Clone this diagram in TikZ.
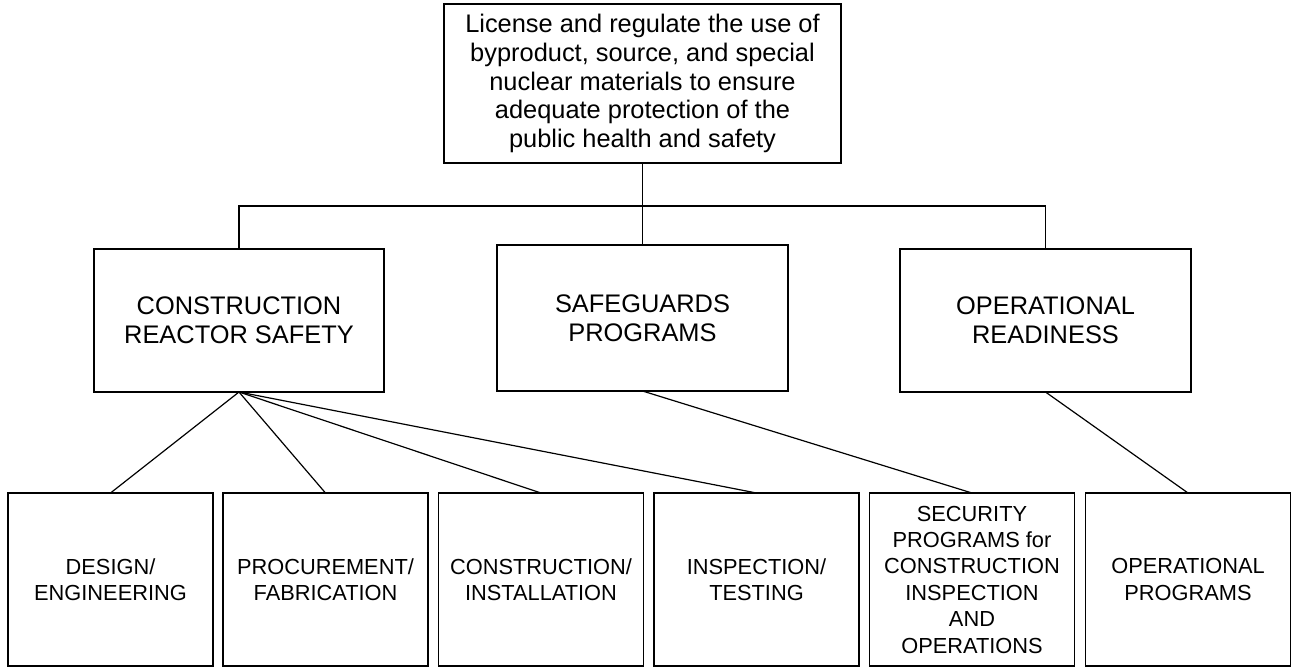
\documentclass[tikz,border=0pt]{standalone}
\usepackage{fontspec}
\setmainfont{Liberation Sans}
\begin{document}
\begin{tikzpicture}[x=1pt,y=-1pt,
  box/.style={draw=black,line width=1.3pt,inner sep=0pt,outer sep=0pt,align=center,rectangle},
  bigtext/.style={font=\fontsize{25.4}{28.8}\selectfont},
  smalltext/.style={font=\fontsize{21.8}{26.4}\selectfont},
  bottombox/.style={box,smalltext,minimum width=205pt,minimum height=173pt},
  link/.style={draw=black,line width=1.2pt}]
\useasboundingbox (0,0) rectangle (1293,667);
\node[box,bigtext,minimum width=397pt,minimum height=159pt] (top) at (642.5,83.5)
  {License and regulate the use of\\byproduct, source, and special\\nuclear materials to ensure\\adequate protection of the\\public health and safety};
\node[box,bigtext,minimum width=290pt,minimum height=143pt] (left) at (239,320.5)
  {CONSTRUCTION\\REACTOR SAFETY};
\node[box,bigtext,minimum width=291pt,minimum height=146pt] (mid) at (642.5,318)
  {SAFEGUARDS\\PROGRAMS};
\node[box,bigtext,minimum width=291pt,minimum height=143pt] (right) at (1045.5,320.5)
  {OPERATIONAL\\READINESS};
\coordinate (bus) at (642.5,206);
\node[bottombox] (b1) at (110.5,579.5) {DESIGN/\\ENGINEERING};
\node[bottombox] (b2) at (325.5,579.5) {PROCUREMENT/\\FABRICATION};
\node[bottombox] (b3) at (541,579.5) {CONSTRUCTION/\\INSTALLATION};
\node[bottombox] (b4) at (756.5,579.5) {INSPECTION/\\TESTING};
\node[bottombox] (b5) at (972,579.5) {SECURITY\\PROGRAMS for\\CONSTRUCTION\\INSPECTION\\AND\\OPERATIONS};
\node[bottombox] (b6) at (1188,579.5) {OPERATIONAL\\PROGRAMS};
\draw[link] (top.south) -- (mid.north);
\draw[link] (left.north) -- (left.north |- bus) -- (right.north |- bus) -- (right.north);
\draw[link] (left.south) -- (b1.north);
\draw[link] (left.south) -- (b2.north);
\draw[link] (left.south) -- (b3.north);
\draw[link] (left.south) -- (b4.north);
\draw[link] (mid.south) -- (b5.north);
\draw[link] (right.south) -- (b6.north);
\end{tikzpicture}
\end{document}
